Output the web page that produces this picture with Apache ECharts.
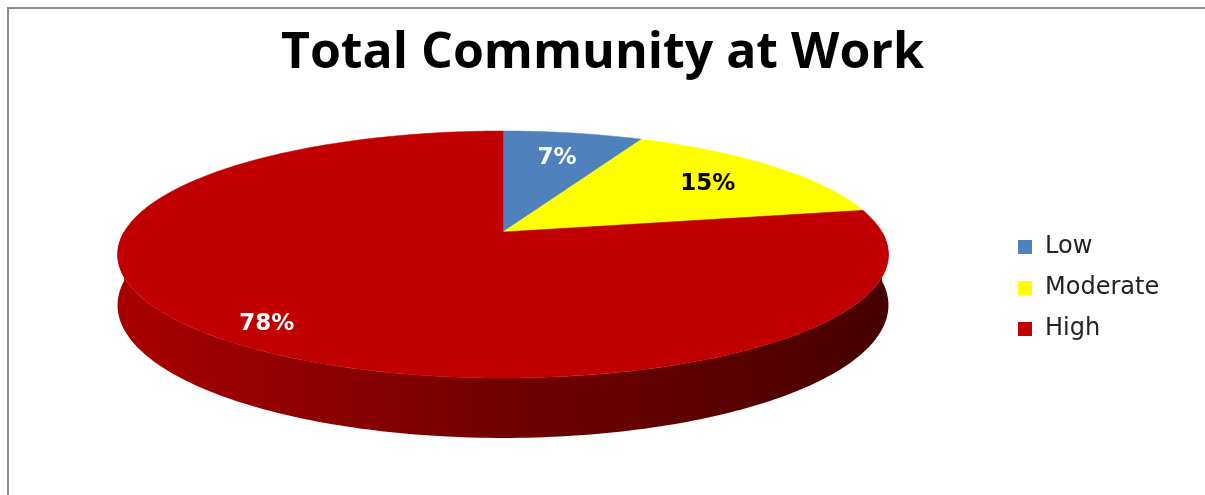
<!DOCTYPE html>
<html>
<head>
<meta charset="utf-8">
<script src="https://cdn.jsdelivr.net/npm/echarts@6/dist/echarts.min.js"></script>
<style>
  html, body { margin: 0; padding: 0; background: #fff; }
  #main { width: 1205px; height: 495px; }
</style>
</head>
<body>
<div id="main"></div>
<script>
// 数据
const categories = ['Low', 'Moderate', 'High'];
const values = [7, 15, 78];
const colors = ['#4F81BD', '#FFFF00', '#C00000'];
const labelColors = ['#ffffff', '#000000', '#ffffff'];

// 透视投影参数（3D 饼图）
const cx = 503, cy = 232;   // 圆心在屏幕上的位置
const K = 379;              // 水平半径
const A = 77.13;            // 竖直方向
const C = -0.1822;          // 透视系数
const D = 49;               // 厚度

const total = values.reduce((s, v) => s + v, 0);

function project(theta, r, depth) {
    let u = r * Math.sin(theta), v = -r * Math.cos(theta);
    let den = 1 + C * v;
    return [cx + K * u / den, (A * v + cy + depth) / den];
}

function sliceRange(idx) {
    let start = 0;
    for (let i = 0; i < idx; i++) start += values[i];
    return [start / total * Math.PI * 2, (start + values[idx]) / total * Math.PI * 2];
}

function arc(a, b, depth) {
    let pts = [];
    let n = Math.max(2, Math.ceil((b - a) / (Math.PI / 180)));
    for (let i = 0; i <= n; i++) pts.push(project(a + (b - a) * i / n, 1, depth));
    return pts;
}

let left = project(Math.PI * 1.5, 1, 0)[0], right = project(Math.PI * 0.5, 1, 0)[0];
let wallColor = {
    type: 'linear', x: left, y: 0, x2: right, y2: 0, global: true,
    colorStops: [
        {offset: 0, color: '#a80000'},
        {offset: 0.5, color: '#720000'},
        {offset: 1, color: '#470000'}
    ]
};

let myChart = echarts.init(document.getElementById('main'));
myChart.setOption({
    animation: false,
    title: {
        text: 'Total Community at Work',
        left: 'center',
        top: 24,
        textStyle: {
            fontFamily: '"Open Sans", sans-serif',
            fontWeight: 'bold',
            fontSize: 50,
            color: '#000'
        }
    },
    legend: {
        orient: 'vertical',
        left: 1013,
        top: 230,
        icon: 'rect',
        itemWidth: 14,
        itemHeight: 14,
        itemGap: 17,
        selectedMode: false,
        data: categories,
        textStyle: {
            fontFamily: '"DejaVu Sans", sans-serif',
            fontSize: 24,
            color: '#222',
            padding: [0, 0, 0, 8]
        }
    },
    graphic: [{
        type: 'polyline',
        shape: {points: [[8, 495], [8, 8], [1205, 8]]},
        style: {stroke: '#8c8c8c', lineWidth: 2, fill: null}
    }],
    series: [
        {
            // 只用于图例
            type: 'pie',
            radius: [0, 0],
            silent: true,
            label: {show: false},
            labelLine: {show: false},
            data: categories.map((c, i) => ({name: c, value: values[i], itemStyle: {color: colors[i]}}))
        },
        {
            // 侧面
            type: 'custom',
            coordinateSystem: 'none',
            silent: true,
            z: 1,
            data: values,
            renderItem: function (params, api) {
                let [a, b] = sliceRange(params.dataIndex);
                a = Math.max(a, Math.PI * 0.5);
                b = Math.min(b, Math.PI * 1.5);
                if (b <= a) return null;
                let top = arc(a, b, 0);
                let bottom = arc(a, b, D).reverse();
                return {
                    type: 'polygon',
                    shape: {points: top.concat(bottom)},
                    style: {fill: params.dataIndex == 2 ? wallColor : colors[params.dataIndex], lineWidth: 0}
                };
            }
        },
        {
            // 顶面
            type: 'custom',
            coordinateSystem: 'none',
            silent: true,
            z: 2,
            data: values,
            renderItem: function (params, api) {
                let idx = params.dataIndex;
                let [a, b] = sliceRange(idx);
                let pts = [project(0, 0, 0)].concat(arc(a, b, 0));
                let mid = (a + b) / 2;
                let lp = project(mid, values[idx] > 50 ? 0.86 : 0.74, 0);
                return {
                    type: 'group',
                    children: [{
                        type: 'polygon',
                        shape: {points: pts},
                        style: {fill: colors[idx], stroke: colors[idx], lineWidth: 0.5}
                    }, {
                        type: 'text',
                        z2: 10,
                        style: {
                            x: lp[0], y: lp[1] + 2,
                            text: Math.round(api.value(0) / total * 100) + '%',
                            fill: labelColors[idx],
                            align: 'center',
                            verticalAlign: 'middle',
                            font: 'bold 23px "DejaVu Sans", sans-serif'
                        }
                    }]
                };
            }
        }
    ]
});
</script>
</body>
</html>
